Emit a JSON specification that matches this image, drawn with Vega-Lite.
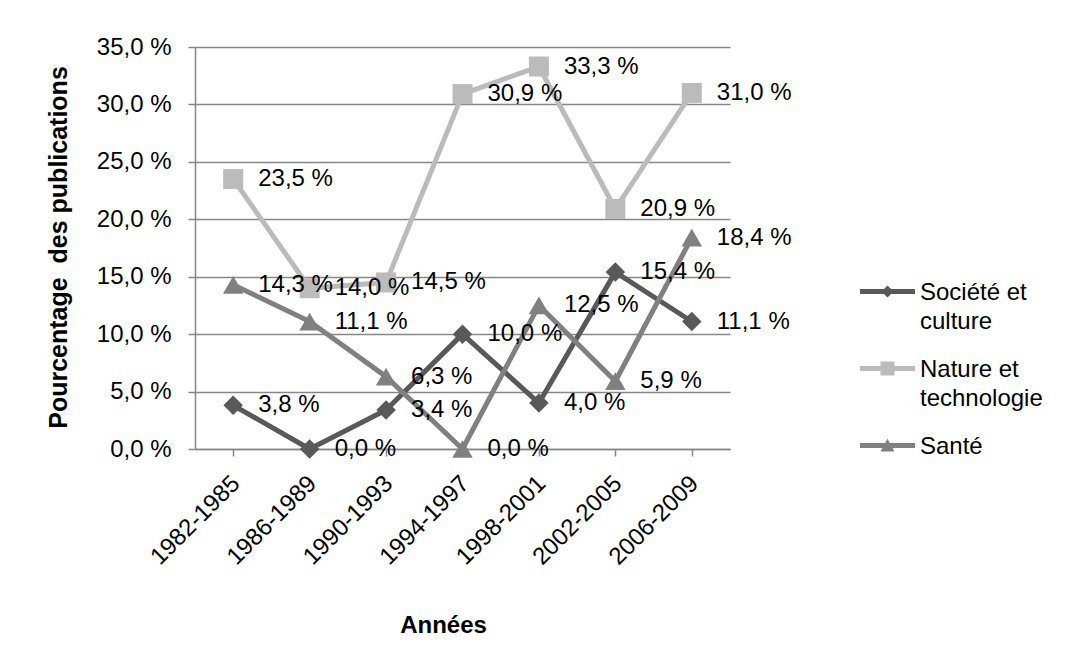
{
  "$schema": "https://vega.github.io/schema/vega-lite/v6.json",
  "width": 535,
  "height": 402,
  "autosize": {"type": "none"},
  "padding": {"left": 195, "top": 47, "right": 351, "bottom": 205},
  "background": "white",
  "config": {
    "font": "Liberation Sans",
    "view": {"stroke": null},
    "locale": {"number": {"decimal": ",", "thousands": " ", "grouping": [3], "currency": ["", " €"], "percent": " %"}}
  },
  "data": {
    "values": [
      {"periode": "1982-1985", "serie": "Société et culture", "pct": 0.038},
      {"periode": "1986-1989", "serie": "Société et culture", "pct": 0.0},
      {"periode": "1990-1993", "serie": "Société et culture", "pct": 0.034},
      {"periode": "1994-1997", "serie": "Société et culture", "pct": 0.1},
      {"periode": "1998-2001", "serie": "Société et culture", "pct": 0.04},
      {"periode": "2002-2005", "serie": "Société et culture", "pct": 0.154},
      {"periode": "2006-2009", "serie": "Société et culture", "pct": 0.111},
      {"periode": "1982-1985", "serie": "Nature et technologie", "pct": 0.235},
      {"periode": "1986-1989", "serie": "Nature et technologie", "pct": 0.14},
      {"periode": "1990-1993", "serie": "Nature et technologie", "pct": 0.145},
      {"periode": "1994-1997", "serie": "Nature et technologie", "pct": 0.309},
      {"periode": "1998-2001", "serie": "Nature et technologie", "pct": 0.333},
      {"periode": "2002-2005", "serie": "Nature et technologie", "pct": 0.209},
      {"periode": "2006-2009", "serie": "Nature et technologie", "pct": 0.31},
      {"periode": "1982-1985", "serie": "Santé", "pct": 0.143},
      {"periode": "1986-1989", "serie": "Santé", "pct": 0.111},
      {"periode": "1990-1993", "serie": "Santé", "pct": 0.063},
      {"periode": "1994-1997", "serie": "Santé", "pct": 0.0},
      {"periode": "1998-2001", "serie": "Santé", "pct": 0.125},
      {"periode": "2002-2005", "serie": "Santé", "pct": 0.059},
      {"periode": "2006-2009", "serie": "Santé", "pct": 0.184}
    ]
  },
  "encoding": {
    "x": {
      "field": "periode",
      "type": "nominal",
      "sort": null,
      "scale": {"paddingInner": 0, "paddingOuter": 0},
      "axis": {
        "title": "Années",
        "titleFontSize": 24,
        "titleFontWeight": "bold",
        "titleColor": "black",
        "titleX": 248,
        "titleY": 176,
        "titleBaseline": "middle",
        "titleAlign": "center",
        "bandPosition": 0,
        "labelOffset": -6,
        "labelAngle": -45,
        "labelAlign": "right",
        "labelBaseline": "top",
        "labelPadding": 15,
        "labelFontSize": 24,
        "labelColor": "black",
        "labelLimit": 0,
        "tickSize": 7,
        "tickColor": "#878787",
        "tickWidth": 1.5,
        "domainColor": "#878787",
        "domainWidth": 1.5,
        "grid": false
      }
    },
    "y": {
      "field": "pct",
      "type": "quantitative",
      "scale": {"domain": [0, 0.35], "nice": false},
      "axis": {
        "title": "Pourcentage \u00a0des publications",
        "titleFontSize": 25,
        "titleFontWeight": "bold",
        "titleColor": "black",
        "titleAngle": -90,
        "titleX": -137,
        "titleY": 200,
        "titleBaseline": "middle",
        "titleAlign": "center",
        "values": [0, 0.05, 0.1, 0.15, 0.2, 0.25, 0.3, 0.35],
        "format": ".1%",
        "labelFontSize": 24,
        "labelColor": "black",
        "labelPadding": 17,
        "tickSize": 7,
        "tickColor": "#878787",
        "tickWidth": 1.5,
        "domainColor": "#878787",
        "domainWidth": 1.5,
        "grid": true,
        "gridColor": "#878787",
        "gridWidth": 1.5
      }
    }
  },
  "layer": [
    {
      "mark": {"type": "line", "strokeWidth": 5, "strokeJoin": "round", "strokeCap": "round"},
      "encoding": {
        "color": {
          "field": "serie",
          "type": "nominal",
          "scale": {"domain": ["Société et culture", "Nature et technologie", "Santé"], "range": ["#595959", "#BBBBBB", "#808080"]},
          "legend": {
            "title": null,
            "orient": "none",
            "legendX": 665,
            "legendY": 217,
            "padding": 0,
            "symbolSize": 3025,
            "labelFontSize": 24,
            "labelColor": "black",
            "labelOffset": 5,
            "labelLimit": 0,
            "labelBaseline": "alphabetic",
            "rowPadding": 7,
            "labelExpr": "datum.value == 'Société et culture' ? ['Société et', 'culture'] : datum.value == 'Nature et technologie' ? ['Nature et', 'technologie'] : datum.label",
            "encode": {
              "symbols": {
                "update": {
                  "shape": {"signal": "datum.value == 'Société et culture' ? 'M-1,-0.09H1V0.09H-1Z M0,-0.22L0.22,0L0,0.22L-0.22,0Z' : datum.value == 'Nature et technologie' ? 'M-1,-0.09H1V0.09H-1Z M-0.255,-0.255H0.255V0.255H-0.255Z' : 'M-1,-0.09H1V0.09H-1Z M0,-0.25L0.25,0.22L-0.25,0.22Z'"},
                  "fill": {"scale": "color", "field": "value"},
                  "stroke": {"value": "transparent"},
                  "strokeWidth": {"value": 0},
                  "size": {"value": 3025},
                  "opacity": {"value": 1}
                }
              },
              "labels": {
                "update": {
                  "lineHeight": {"value": 29},
                  "dy": {"value": 8}
                }
              }
            }
          }
        }
      }
    },
    {
      "transform": [{"filter": "datum.serie == 'Société et culture'"}],
      "mark": {"type": "point", "filled": true, "size": 380, "opacity": 1, "shape": "diamond"},
      "encoding": {"color": {"field": "serie", "type": "nominal"}}
    },
    {
      "transform": [{"filter": "datum.serie == 'Nature et technologie'"}],
      "mark": {"type": "point", "filled": true, "size": 400, "opacity": 1, "shape": "square"},
      "encoding": {"color": {"field": "serie", "type": "nominal"}}
    },
    {
      "transform": [{"filter": "datum.serie == 'Santé'"}],
      "mark": {"type": "point", "filled": true, "size": 420, "opacity": 1, "shape": "triangle-up"},
      "encoding": {"color": {"field": "serie", "type": "nominal"}}
    },
    {
      "mark": {"type": "text", "align": "left", "baseline": "middle", "dx": 25, "fontSize": 24, "color": "black"},
      "encoding": {
        "text": {"field": "pct", "type": "quantitative", "format": ".1%"}
      }
    }
  ]
}
